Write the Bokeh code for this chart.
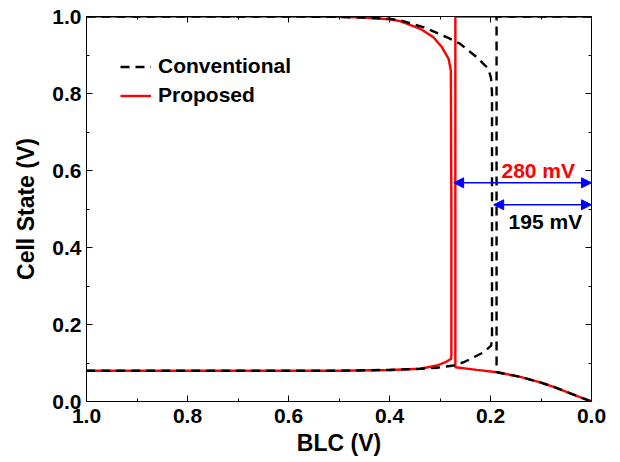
from bokeh.plotting import figure
from bokeh.models import (Range1d, LinearAxis, FixedTicker, PrintfTickFormatter,
                          Legend, LegendItem, Arrow, NormalHead, Label)
from bokeh.embed import file_html
from bokeh.resources import INLINE

# ---------------- data ----------------
x_major = [0.0, 0.2, 0.4, 0.6, 0.8, 1.0]
x_minor = [0.1, 0.3, 0.5, 0.7, 0.9]
y_major = [0.0, 0.2, 0.4, 0.6, 0.8, 1.0]
y_minor = [0.1, 0.3, 0.5, 0.7, 0.9]

# Conventional, curve A (butterfly branch from the left)
conv_a_x = [1.0, 0.9, 0.8, 0.7, 0.6, 0.5, 0.45, 0.4, 0.379, 0.332, 0.286, 0.26, 0.227,
            0.204, 0.199, 0.197, 0.197, 0.197, 0.199, 0.2135, 0.233, 0.253, 0.273,
            0.306, 0.339, 0.4, 0.5, 0.6, 0.7, 0.8, 0.9, 1.0]
conv_a_y = [1.0, 1.0, 1.0, 1.0, 1.0, 0.999, 0.997, 0.994, 0.99, 0.972, 0.946, 0.929, 0.894,
            0.864, 0.84, 0.80, 0.5, 0.16, 0.145, 0.128, 0.115, 0.102, 0.0935,
            0.0875, 0.085, 0.082, 0.08, 0.08, 0.08, 0.08, 0.08, 0.08]
# Conventional, curve B (branch from the right)
conv_b_x = [0.0, 0.1, 0.188, 0.188, 0.187, 0.141, 0.1, 0.075, 0.042, 0.0]
conv_b_y = [1.0, 1.0, 1.0, 0.0755, 0.076, 0.064, 0.049, 0.038, 0.021, 0.0]

# Proposed, curve A
prop_a_x = [1.0, 0.9, 0.8, 0.7, 0.6, 0.5, 0.45, 0.4, 0.379, 0.339, 0.313, 0.296, 0.283,
            0.2785, 0.2775, 0.2775, 0.278, 0.289, 0.306, 0.339, 0.4, 0.5, 0.6, 0.7,
            0.8, 0.9, 1.0]
prop_a_y = [1.0, 1.0, 1.0, 1.0, 1.0, 0.999, 0.997, 0.993, 0.988, 0.968, 0.946, 0.92, 0.89,
            0.86, 0.5, 0.12, 0.111, 0.102, 0.0935, 0.085, 0.082, 0.08, 0.08, 0.08,
            0.08, 0.08, 0.08]
# Proposed, curve B
prop_b_x = [0.0, 0.1, 0.2, 0.2696, 0.2696, 0.227, 0.187, 0.141, 0.1, 0.075, 0.042, 0.0]
prop_b_y = [1.0, 1.0, 1.0, 1.0, 0.089, 0.082, 0.076, 0.064, 0.049, 0.038, 0.021, 0.0]

# margin annotations
gap_texts = ["280 mV", "195 mV"]
gap_colors = ["#ff0000", "#000000"]
gap_start = [0.273, 0.1937]
gap_end = [0.0, 0.0]
gap_y = [0.568, 0.511]
gap_text_x = [0.1054, 0.0913]
gap_text_y = [0.599, 0.468]

FONT = "Liberation Sans"

# ---------------- figure ----------------
p = figure(width=620, height=462, output_backend="svg", toolbar_location=None,
           x_range=Range1d(1.0, 0.0), y_range=Range1d(0.0, 1.0),
           min_border_left=86, min_border_right=29, min_border_top=16,
           min_border_bottom=61, x_axis_label="BLC (V)", y_axis_label="Cell State (V)")
p.xgrid.visible = False
p.ygrid.visible = False
p.outline_line_color = "black"
p.outline_line_width = 1
p.background_fill_color = "white"
p.border_fill_color = "white"

def style_axis(ax, ticks, minors, show_labels=True):
    ax.ticker = FixedTicker(ticks=ticks, minor_ticks=minors)
    ax.formatter = PrintfTickFormatter(format="%.1f")
    ax.major_tick_in = 6
    ax.major_tick_out = 0
    ax.minor_tick_in = 3
    ax.minor_tick_out = 0
    ax.axis_line_color = "black"
    ax.major_tick_line_color = "black"
    ax.minor_tick_line_color = "black"
    ax.major_label_text_font = FONT
    ax.major_label_text_font_style = "bold"
    ax.major_label_text_font_size = "21px"
    ax.major_label_text_color = "black"
    ax.axis_label_text_font = FONT
    ax.axis_label_text_font_style = "bold"
    ax.axis_label_text_font_size = "23px"
    ax.axis_label_text_color = "black"
    if not show_labels:
        ax.major_label_text_color = None
        ax.major_label_text_font_size = "0px"
        ax.major_label_standoff = 0

style_axis(p.xaxis[0], x_major, x_minor)
style_axis(p.yaxis[0], y_major, y_minor)
p.xaxis[0].major_label_standoff = 7
p.xaxis[0].axis_label_standoff = 4
p.yaxis[0].major_label_standoff = 5
p.yaxis[0].axis_label_standoff = 10

top_ax = LinearAxis()
right_ax = LinearAxis()
style_axis(top_ax, x_major, x_minor, show_labels=False)
style_axis(right_ax, y_major, y_minor, show_labels=False)
p.add_layout(top_ax, "above")
p.add_layout(right_ax, "right")

# ---------------- curves ----------------
RED = "#ff0000"
r_pa = p.line(prop_a_x, prop_a_y, line_color=RED, line_width=2.4)
r_pb = p.line(prop_b_x, prop_b_y, line_color=RED, line_width=2.4)
r_ca = p.line(conv_a_x, conv_a_y, line_color="black", line_width=2.4, line_dash="9 6")
r_cb = p.line(conv_b_x, conv_b_y, line_color="black", line_width=2.4, line_dash="9 6")

# ---------------- annotations ----------------
for xs, xe, yy in zip(gap_start, gap_end, gap_y):
    p.add_layout(Arrow(x_start=xs, y_start=yy, x_end=xe, y_end=yy,
                       line_color="#0000ff", line_width=1.5,
                       start=NormalHead(size=10, fill_color="#0000ff", line_color="#0000ff"),
                       end=NormalHead(size=10, fill_color="#0000ff", line_color="#0000ff")))

for t, c, tx, ty in zip(gap_texts, gap_colors, gap_text_x, gap_text_y):
    p.add_layout(Label(x=tx, y=ty, text=t, text_color=c, text_font=FONT,
                       text_font_style="bold", text_font_size="21px",
                       text_align="center", text_baseline="middle"))

# ---------------- legend ----------------
legend = Legend(items=[LegendItem(label="Conventional", renderers=[r_ca]),
                       LegendItem(label="Proposed", renderers=[r_pa])],
                location=(34, 294), border_line_color=None, background_fill_alpha=0,
                padding=0, margin=0, spacing=5, glyph_width=31, glyph_height=23,
                label_height=23, label_standoff=7,
                label_text_font=FONT, label_text_font_style="bold",
                label_text_font_size="21px", label_text_color="black")
p.add_layout(legend, "center")

open("out.html", "w").write(file_html(p, INLINE))
